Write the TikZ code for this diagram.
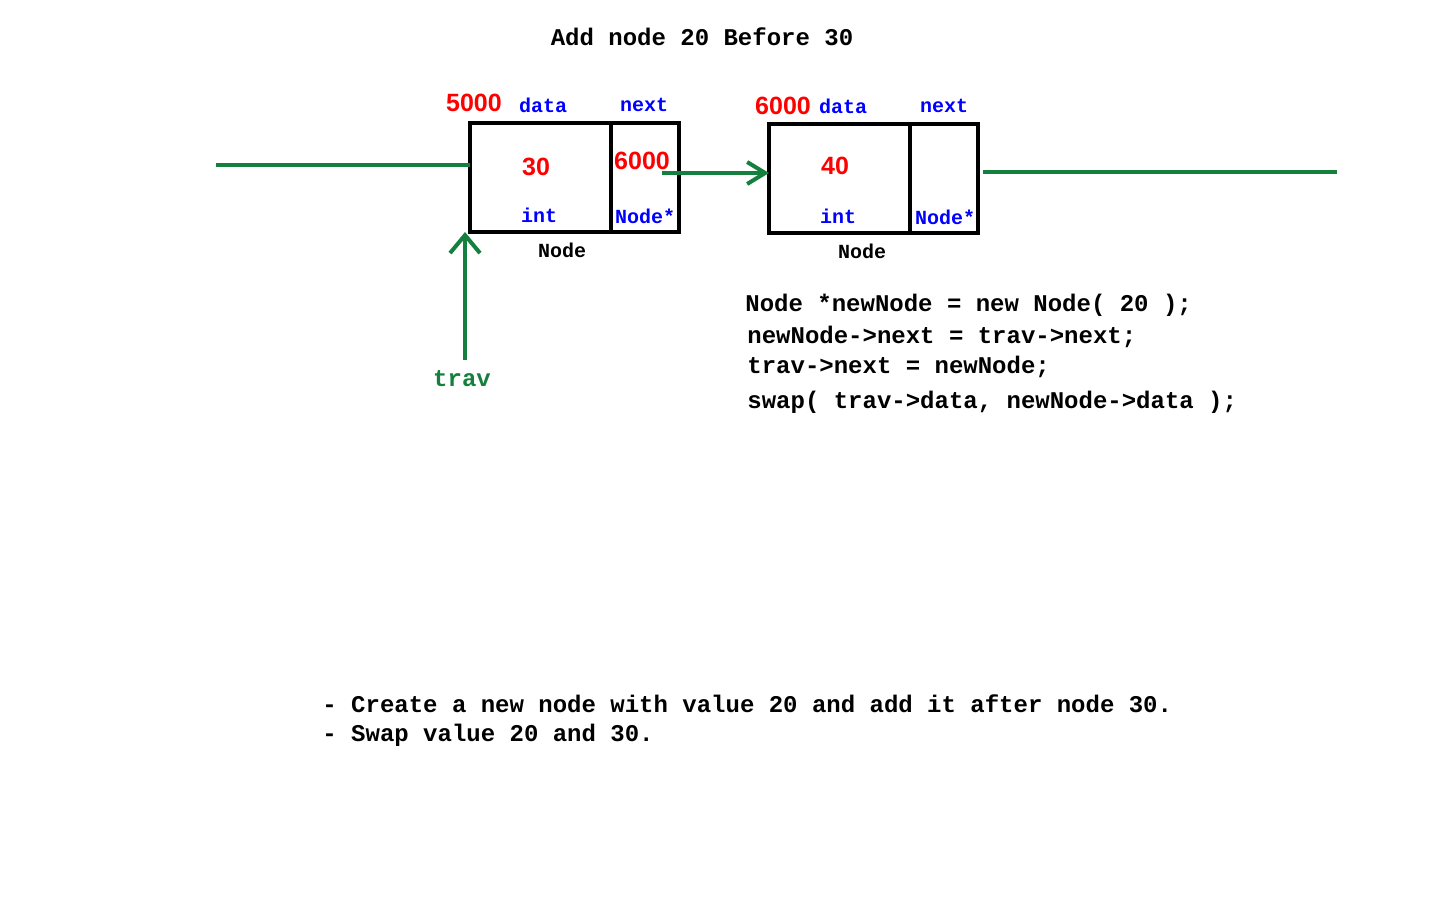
\documentclass[tikz,border=0pt]{standalone}
\usepackage{fontspec}
\setmainfont{Liberation Serif}
\setsansfont{Liberation Sans}
\setmonofont{Liberation Mono}
\usetikzlibrary{arrows.meta,positioning}
\definecolor{linkgreen}{RGB}{21,128,61}
\definecolor{valred}{RGB}{255,0,0}
\definecolor{typeblue}{RGB}{0,0,255}

\begin{document}
\begin{tikzpicture}[
  x=0.5pt,
  y=-0.5pt,
  cell/.style={
    draw=black,
    line width=2pt,
    outer sep=0pt,
    inner sep=0pt,
    minimum height=54.5pt
  },
  datacell/.style={cell,minimum width=70.5pt},
  nextcell/.style={cell,minimum width=34pt},
  field/.style={
    font=\ttfamily\bfseries\fontsize{10}{12}\selectfont,
    text=typeblue,
    inner sep=0pt
  },
  typename/.style={field,text=black},
  addr/.style={
    font=\sffamily\bfseries\fontsize{12.5}{14}\selectfont,
    text=valred,
    inner sep=0pt
  },
  code/.style={
    font=\ttfamily\bfseries\fontsize{12}{14}\selectfont,
    inner sep=0pt,
    anchor=west
  },
  link/.style={draw=linkgreen,line width=2pt},
  ptr/.style={link,-{Straight Barb[length=9pt,width=11pt]}},
  travptr/.style={link,-{Straight Barb[length=9pt,width=15pt]}}
]
\useasboundingbox (0,0) rectangle (1440,900);

% Title
\node[code,anchor=center] (title) at (702,37) {Add node 20 Before 30};

% First list node (value 30)
\node[datacell] (data1) at (540,177.5) {};
\node[nextcell,right=0pt of data1] (next1) {};
\node[addr] (addr1) at (474,103) {5000};
\node[field] (dlabel1) at (543,105) {data};
\node[field] (nlabel1) at (644,105) {next};
\node[addr] (val1) at (536,167) {30};
\node[addr] (ptrval1) at (642,161) {6000};
\node[field] (dtype1) at (539,215) {int};
\node[field] (ntype1) at (645,216) {Node*};
\node[typename] (type1) at (562,250) {Node};

% Second list node (value 40)
\node[datacell] (data2) at (839.5,178.5) {};
\node[nextcell,right=0pt of data2] (next2) {};
\node[addr] (addr2) at (783,106) {6000};
\node[field] (dlabel2) at (843,106) {data};
\node[field] (nlabel2) at (944,106) {next};
\node[addr] (val2) at (835,166) {40};
\node[field] (dtype2) at (838,216) {int};
\node[field] (ntype2) at (945,217) {Node*};
\node[typename] (type2) at (862,251) {Node};

% Links
\coordinate (headin) at (216,165);
\draw[link] (headin) -- (data1.west |- headin);
\coordinate (ptrout1) at (662,173);
\draw[ptr] (ptrout1) -- (data2.west |- ptrout1);
\coordinate (ptrout2) at (983,172);
\coordinate (tailout) at (1337,172);
\draw[link] (ptrout2) -- (tailout);

% trav pointer
\node[code,anchor=center,text=linkgreen] (trav) at (462,379) {trav};
\coordinate (travtail) at (465,360);
\draw[travptr] (travtail) -- (travtail |- data1.south);

% Code
\node[code] (line1) at (745,305) {Node *newNode = new Node( 20 );};
\node[code] (line2) at (747,337) {newNode->next = trav->next;};
\node[code] (line3) at (747,367) {trav->next = newNode;};
\node[code] (line4) at (747,402) {swap( trav->data, newNode->data );};

% Notes
\node[code] (note1) at (322,704) {- Create a new node with value 20 and add it after node 30.};
\node[code] (note2) at (322,735) {- Swap value 20 and 30.};

\end{tikzpicture}
\end{document}
